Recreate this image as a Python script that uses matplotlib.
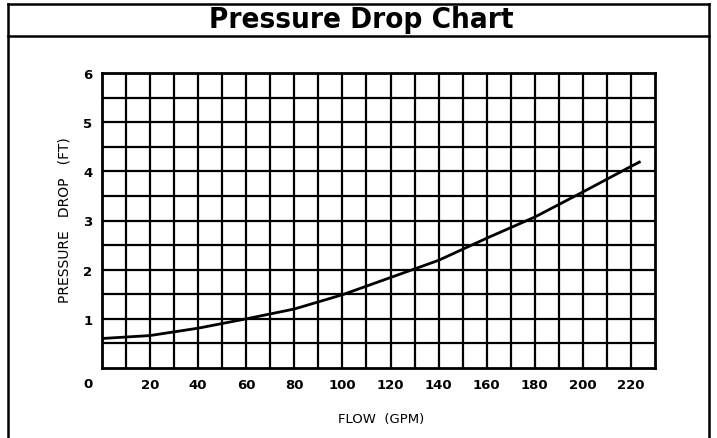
import matplotlib
matplotlib.use("Agg")
import matplotlib.pyplot as plt
from matplotlib.lines import Line2D
import numpy as np

flow = [0, 20, 40, 60, 80, 100, 120, 140, 160, 180, 200, 220, 224]
pressure = [0.60, 0.66, 0.81, 1.00, 1.20, 1.49, 1.84, 2.19, 2.64, 3.07, 3.58, 4.10, 4.20]
x_ticks = [20, 40, 60, 80, 100, 120, 140, 160, 180, 200, 220]
y_ticks = [1, 2, 3, 4, 5, 6]
title = "Pressure Drop Chart"
xlabel = "FLOW  (GPM)"
ylabel = "PRESSURE   DROP   (FT)"

W, H = 717, 439
fig = plt.figure(figsize=(W / 100, H / 100), dpi=100)
fig.patch.set_facecolor("white")

def fx(px): return px / W
def fy(py): return 1 - py / H
for seg in [((8, 8), (5, 439)), ((709, 709), (5, 439)), ((8, 709), (5, 5)), ((8, 709), (37, 37))]:
    fig.add_artist(Line2D([fx(seg[0][0]), fx(seg[0][1])], [fy(seg[1][0]), fy(seg[1][1])],
                          color="black", lw=1.8, transform=fig.transFigure))

fig.text(fx(361), fy(27.5), title, ha="center", va="baseline", fontsize=21.2, fontweight="bold",
         family=["DejaVu Sans"], fontstretch="condensed")

ax = fig.add_axes([fx(102), fy(369), (655 - 102) / W, (369 - 74) / H])
ax.set_xlim(0, 230)
ax.set_ylim(0, 6)
for xv in np.arange(10, 230, 10):
    ax.axvline(xv, color="black", lw=1.6, zorder=1)
for yv in np.arange(0.5, 6, 0.5):
    ax.axhline(yv, color="black", lw=1.6, zorder=1)
for s in ax.spines.values():
    s.set_linewidth(2.0)
ax.plot(flow, pressure, color="black", lw=2.0, zorder=3, solid_capstyle="butt")

ax.set_xticks(x_ticks)
ax.set_xticklabels([str(v) for v in x_ticks], fontsize=9.5, fontweight="bold")
ax.set_yticks(y_ticks)
ax.set_yticklabels([str(v) for v in y_ticks], fontsize=9.5, fontweight="bold")
ax.tick_params(axis="x", length=0, pad=7)
ax.tick_params(axis="y", length=0, pad=7)
ax.text(-4.0, -0.31, "0", ha="right", va="center", fontsize=9.5, fontweight="bold", transform=ax.transData, clip_on=False)

fig.text(fx(381), fy(420), xlabel, ha="center", va="center", fontsize=9.5)
fig.text(fx(64), fy(220), ylabel, ha="center", va="center", fontsize=10, rotation=90)

fig.savefig("out.png", dpi=100, facecolor="white")
